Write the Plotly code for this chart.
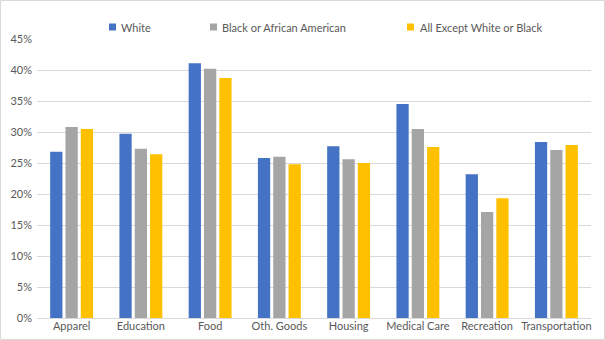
import plotly.graph_objects as go

categories = ["Apparel", "Education", "Food", "Oth. Goods", "Housing",
              "Medical Care", "Recreation", "Transportation"]
white = [26.8, 29.7, 41.1, 25.8, 27.7, 34.5, 23.2, 28.4]
black = [30.8, 27.3, 40.2, 26.0, 25.6, 30.5, 17.1, 27.1]
other = [30.5, 26.4, 38.7, 24.8, 25.0, 27.6, 19.3, 27.9]
series_names = ["White", "Black or African American", "All Except White or Black"]
colors = ["#4472C4", "#A5A5A5", "#FFC000"]
tick_vals = [0, 5, 10, 15, 20, 25, 30, 35, 40, 45]
tick_text = [f"{v}%" for v in tick_vals]

W, H = 605, 340
L, R, T, B = 37, 14, 39, 22
font = "Lato, 'Liberation Sans', Arial, sans-serif"
txtcol = "#595959"

fig = go.Figure()
for name, vals, col in zip(series_names, [white, black, other], colors):
    fig.add_trace(go.Bar(x=categories, y=vals, name=name, marker_color=col,
                         marker_line_width=0, showlegend=False))

# Legend (manual, Excel-like)
pw = W - L - R
ph = H - T - B
def px2x(px):
    return (px - L) / pw
def py2y(py):
    return (H - B - py) / ph

legend_pos = [(109, 119), (210, 220), (407, 418)]
for (sq, tx), name, col in zip(legend_pos, series_names, colors):
    fig.add_shape(type="rect", xref="paper", yref="paper",
                  x0=px2x(sq), x1=px2x(sq + 7), y0=py2y(30.5), y1=py2y(23.5),
                  fillcolor=col, line_width=0)
    fig.add_annotation(xref="paper", yref="paper", x=px2x(tx), y=py2y(27),
                       text=name, showarrow=False, xanchor="left", yanchor="middle",
                       font=dict(family=font, size=11, color=txtcol))

# chart border
fig.add_shape(type="rect", xref="paper", yref="paper",
              x0=px2x(0.5), x1=px2x(W - 0.5), y0=py2y(H - 0.5), y1=py2y(0.5),
              line=dict(color="#D9D9D9", width=1), fillcolor="rgba(0,0,0,0)", layer="below")

fig.update_layout(
    width=W, height=H,
    margin=dict(l=L, r=R, t=T, b=B, pad=0, autoexpand=False),
    paper_bgcolor="white", plot_bgcolor="white",
    barmode="group", bargap=0.336, bargroupgap=0.2,
    font=dict(family=font, size=11, color=txtcol),
    showlegend=False,
)
fig.update_xaxes(showline=True, linecolor="#D9D9D9", linewidth=1, automargin=False,
                 ticks="", tickfont=dict(size=11, color=txtcol), ticklabelstandoff=-2)
fig.update_yaxes(range=[0, 45], tickvals=tick_vals, ticktext=tick_text, automargin=False,
                 showgrid=True, gridcolor="#D9D9D9", gridwidth=1,
                 zeroline=False, showline=False, ticks="",
                 tickfont=dict(size=11, color=txtcol), ticklabelstandoff=4)

fig.write_html("out.html")
